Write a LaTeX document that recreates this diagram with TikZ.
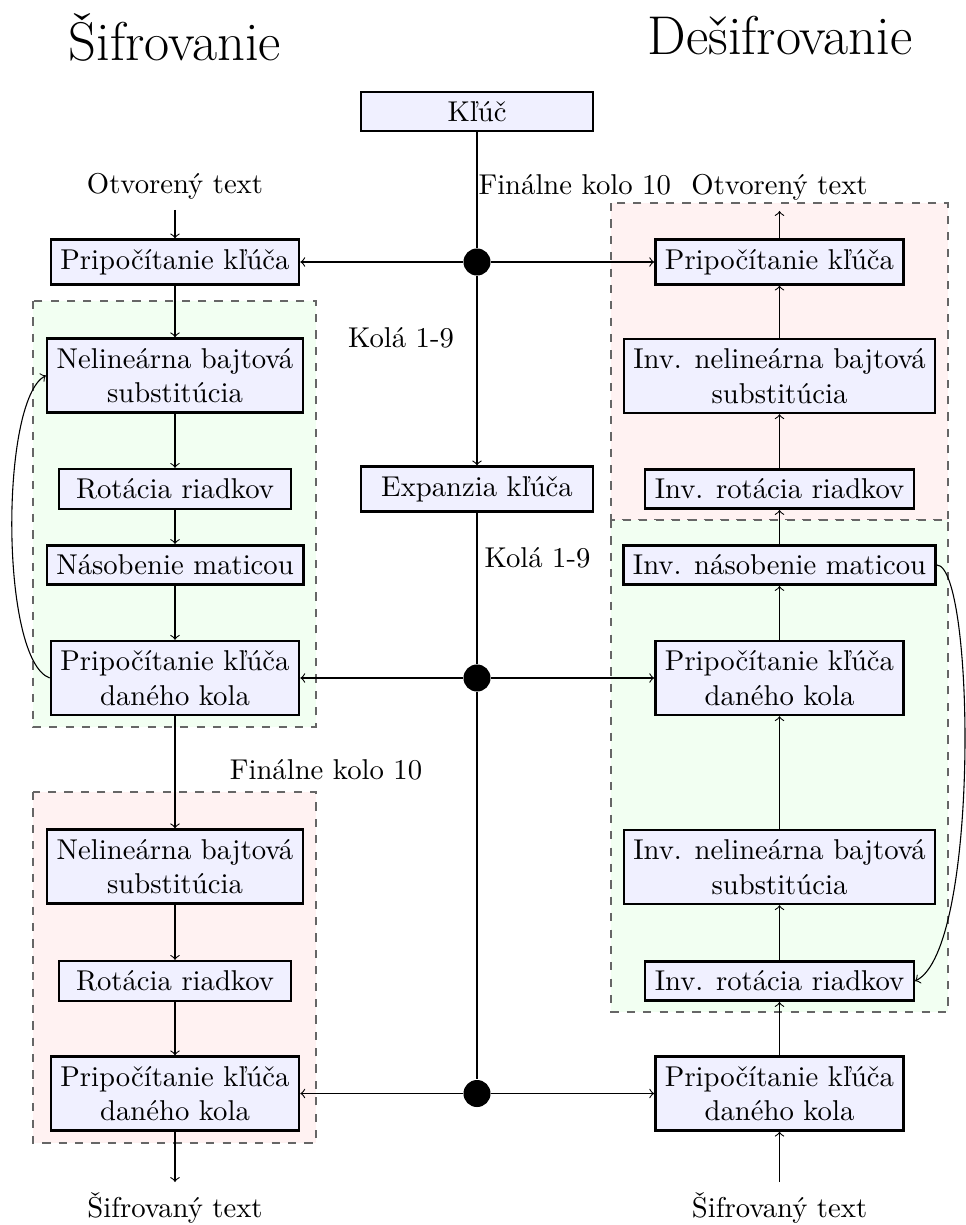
\documentclass[tikz,border=0pt]{standalone}
\usepackage{fontspec}
\begin{document}
\tikzset{
  blok/.style={draw=black, line width=0.9pt, fill=blue!6, align=center},
  sirsi/.style={blok, minimum width=85pt},
  ram/.style={draw=black!60, line width=0.85pt, dashed},
  bod/.style={circle, fill=black, inner sep=0pt, minimum size=9.9pt},
  popis/.style={anchor=base},
  nadpis/.style={anchor=base, font=\fontsize{20}{24}\selectfont},
  tok/.style={->}
}
\fontsize{10.5}{12.6}\selectfont
\begin{tikzpicture}[x=0.3663pt,y=-0.3663pt]
\useasboundingbox (0,0) rectangle (965,1225);

% round frames
\filldraw[ram, fill=green!5] (33,301) rectangle (316,727);
\filldraw[ram, fill=red!5] (33,792) rectangle (316,1143);
\filldraw[ram, fill=red!5] (611,203) rectangle (948,520);
\filldraw[ram, fill=green!5] (611,520) rectangle (948,1012);

% headings
\node[nadpis] (hsif) at (175,61) {Šifrovanie};
\node[nadpis] (hdes) at (780,55) {Dešifrovanie};

% key schedule
\node[sirsi] (kluc) at (477,111.5) {Kľúč};
\node[sirsi] (exp) at (477,489) {Expanzia kľúča};
\node[bod] (k1) at (477,262) {};
\node[bod] (k2) at (477,678) {};
\node[bod] (k3) at (477,1093.5) {};

\node[popis, anchor=base west, inner sep=0pt] (fk1) at (478,195) {Finálne kolo 10};
\node[popis] (kola1) at (401,348) {Kolá 1-9};
\node[popis] (kola2) at (537.5,567) {Kolá 1-9};
\node[popis] (fk2) at (326,779) {Finálne kolo 10};

% encryption
\node[popis] (ot1) at (175,194) {Otvorený text};
\node[blok] (e0) at (175,262) {Pripočítanie kľúča};
\node[blok] (e1) at (175,375.5) {Nelineárna bajtová\\substitúcia};
\node[sirsi] (e2) at (175,489) {Rotácia riadkov};
\node[blok] (e3) at (175,565) {Násobenie maticou};
\node[blok] (e4) at (175,678) {Pripočítanie kľúča\\daného kola};
\node[blok] (e5) at (175,866.5) {Nelineárna bajtová\\substitúcia};
\node[sirsi] (e6) at (175,981) {Rotácia riadkov};
\node[blok] (e7) at (175,1093.5) {Pripočítanie kľúča\\daného kola};
\node[popis] (st1) at (175,1217) {Šifrovaný text};

% decryption
\node[popis] (ot2) at (779.5,195) {Otvorený text};
\node[blok] (d0) at (779.5,262) {Pripočítanie kľúča};
\node[blok] (d1) at (779.5,376) {Inv. nelineárna bajtová\\substitúcia};
\node[blok] (d2) at (779.5,489) {Inv. rotácia riadkov};
\node[blok] (d3) at (779.5,565) {Inv. násobenie maticou};
\node[blok] (d4) at (779.5,678) {Pripočítanie kľúča\\daného kola};
\node[blok] (d5) at (779.5,867) {Inv. nelineárna bajtová\\substitúcia};
\node[blok] (d6) at (779.5,981) {Inv. rotácia riadkov};
\node[blok] (d7) at (779.5,1093.5) {Pripočítanie kľúča\\daného kola};
\node[popis] (st2) at (779.5,1217) {Šifrovaný text};

% key line
\draw (kluc) -- (k1);
\draw[tok] (k1) -- (exp);
\draw (exp) -- (k2) -- (k3);
\foreach \k/\l/\r in {k1/e0/d0, k2/e4/d4, k3/e7/d7} {
  \draw[tok] (\k) -- (\l);
  \draw[tok] (\k) -- (\r);
}

% encryption flow
\draw[tok] (ot1) -- (e0);
\draw[tok] (e0) -- (e1);
\draw[tok] (e1) -- (e2);
\draw[tok] (e2) -- (e3);
\draw[tok] (e3) -- (e4);
\draw[tok] (e4) -- (e5);
\draw[tok] (e5) -- (e6);
\draw[tok] (e6) -- (e7);
\draw[tok] (e7) -- (st1);
\draw[tok] (e4.west) .. controls (0,660) and (0,400) .. (e1.west);

% decryption flow
\draw[tok] (st2) -- (d7);
\draw[tok] (d7) -- (d6);
\draw[tok] (d6) -- (d5);
\draw[tok] (d5) -- (d4);
\draw[tok] (d4) -- (d3);
\draw[tok] (d3) -- (d2);
\draw[tok] (d2) -- (d1);
\draw[tok] (d1) -- (d0);
\draw[tok] (d0) -- (ot2);
\draw[tok] (d3.east) .. controls (975,566) and (980,950) .. (d6.east);
\end{tikzpicture}
\end{document}
